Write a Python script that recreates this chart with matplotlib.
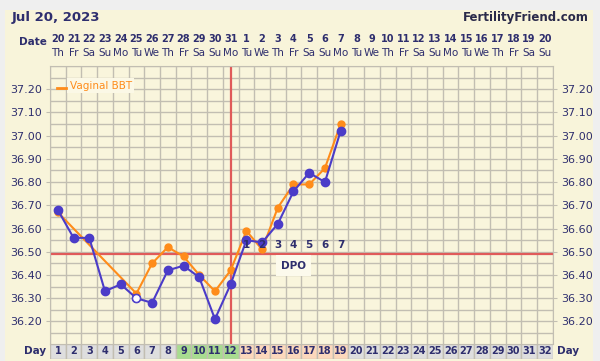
import matplotlib.pyplot as plt
import matplotlib.transforms as mtransforms
from matplotlib.patches import Rectangle

# chart data
days = list(range(1, 33))
dates = [20, 21, 22, 23, 24, 25, 26, 27, 28, 29, 30, 31,
         1, 2, 3, 4, 5, 6, 7, 8, 9, 10, 11, 12, 13, 14, 15, 16, 17, 18, 19, 20]
weekdays = ["Th", "Fr", "Sa", "Su", "Mo", "Tu", "We", "Th", "Fr", "Sa", "Su", "Mo",
            "Tu", "We", "Th", "Fr", "Sa", "Su", "Mo", "Tu", "We", "Th", "Fr", "Sa",
            "Su", "Mo", "Tu", "We", "Th", "Fr", "Sa", "Su"]

bbt_days = list(range(1, 20))
bbt_temps = [36.68, 36.56, 36.56, 36.33, 36.36, 36.30, 36.28, 36.42, 36.44, 36.39,
             36.21, 36.36, 36.55, 36.54, 36.62, 36.76, 36.84, 36.80, 37.02]
open_days = [6]

vag_days = [1, 6, 7, 8, 9, 10, 11, 12, 13, 14, 15, 16, 17, 18, 19]
vag_temps = [36.67, 36.32, 36.45, 36.52, 36.48, 36.40, 36.33, 36.42, 36.59, 36.51,
             36.69, 36.79, 36.79, 36.86, 37.05]

coverline = 36.49
ovulation_day = 12
dpo_days = [13, 14, 15, 16, 17, 18, 19]
yticks = [36.20, 36.30, 36.40, 36.50, 36.60, 36.70, 36.80, 36.90, 37.00, 37.10, 37.20]

green_days = [9, 10, 11, 12]
peach_days = [13, 14, 15, 16, 17, 18, 19]

navy = "#2e2e6e"
cream = "#f9f5dc"
gridc = "#c2beb2"
red = "#e05a5a"
blue = "#4b3cc8"
orange = "#ff8c1a"

fig = plt.figure(figsize=(6, 3.61), dpi=100, facecolor="#efefef")
fig.patches.append(Rectangle((5 / 600, 0), 588 / 600, 1 - 10 / 361,
                             transform=fig.transFigure, facecolor="#f8f4da",
                             edgecolor="none", zorder=-10))

ax = fig.add_axes([50 / 600, (361 - 343.5) / 361, 502.7 / 600, 277.5 / 361])
ax.set_facecolor(cream)
ax.set_xlim(0.5, 32.5)
ax.set_ylim(36.105, 37.30)

# grid
for i in range(33):
    ax.axvline(i + 0.5, color=gridc, lw=1.0, zorder=1)
t = 36.10
while t < 37.31:
    ax.axhline(t, color=gridc, lw=1.0, zorder=1)
    t += 0.05
for s in ax.spines.values():
    s.set_color(gridc)

ax.set_xticks([])
ax.set_yticks(yticks)
ax.set_yticklabels(["%.2f" % v for v in yticks])
ax.tick_params(axis="y", which="both", labelsize=8, labelcolor=navy, color=gridc,
               length=3, pad=3, left=True, right=True, labelleft=True, labelright=True)

# coverline and ovulation line
ax.axhline(coverline, color=red, lw=1.6, zorder=2)
ax.axvline(ovulation_day, color=red, lw=1.6, zorder=2)

# temperature lines
ax.plot(vag_days, vag_temps, color=orange, lw=1.5, marker="o", ms=5, zorder=3)
ax.plot(bbt_days, bbt_temps, color=blue, lw=1.5, marker="o", ms=6, zorder=4)
for d in open_days:
    ax.plot(d, bbt_temps[bbt_days.index(d)], marker="o", ms=5.5, color=blue,
            mfc="white", mew=0.8, zorder=5)

# DPO labels
for n, d in enumerate(dpo_days):
    ax.text(d, coverline + 0.04, str(n + 1), ha="center", va="center",
            fontsize=7.5, fontweight="bold", color=navy, zorder=6)
ax.text(16, coverline - 0.05, "DPO", ha="center", va="center", fontsize=7.5,
        fontweight="bold", color=navy, zorder=6,
        bbox=dict(boxstyle="square,pad=0.5", facecolor="#fcfaec", edgecolor="none"))

# legend
ax.text(1.75, 37.215, "Vaginal BBT", ha="left", va="center", fontsize=7.5,
        color=orange, zorder=7,
        bbox=dict(boxstyle="square,pad=0.25", facecolor="#fbf8e6", edgecolor="none"))
ax.plot([0.95, 1.55], [37.205, 37.205], color=orange, lw=2, zorder=8)

# header
tr = mtransforms.blended_transform_factory(ax.transData, fig.transFigure)
for d, dt, wd in zip(days, dates, weekdays):
    fig.text(d, 1 - 39 / 361, str(dt), transform=tr, ha="center", va="center",
             fontsize=7, fontweight="bold", color=navy)
    fig.text(d, 1 - 52.5 / 361, wd, transform=tr, ha="center", va="center",
             fontsize=7.5, color=navy)
fig.text(47 / 600, 1 - 42 / 361, "Date", ha="right", va="center", fontsize=7.5,
         fontweight="bold", color=navy)
fig.text(12 / 600, 1 - 18 / 361, "Jul 20, 2023", ha="left", va="center",
         fontsize=9.5, fontweight="bold", color=navy)
fig.text(589 / 600, 1 - 17 / 361, "FertilityFriend.com", ha="right", va="center",
         fontsize=8.5, fontweight="bold", color="#2a2a4a")

# day row
axd = fig.add_axes([50 / 600, (361 - 358.5) / 361, 502.7 / 600, 15 / 361])
axd.set_xlim(0.5, 32.5)
axd.set_ylim(0, 1)
axd.axis("off")
cols = []
for d in days:
    if d in green_days:
        cols.append("#a8dc90")
    elif d in peach_days:
        cols.append("#fcd8bc")
    else:
        cols.append("#dedede")
axd.bar(days, [1] * len(days), width=1, bottom=0, color=cols, edgecolor=gridc, lw=1.0)
for d in days:
    axd.text(d, 0.5, str(d), ha="center", va="center", fontsize=7,
             fontweight="bold", color=navy)
fig.text(46 / 600, 1 - 351 / 361, "Day", ha="right", va="center", fontsize=7.5,
         fontweight="bold", color=navy)
fig.text(557 / 600, 1 - 351 / 361, "Day", ha="left", va="center", fontsize=7.5,
         fontweight="bold", color=navy)

fig.savefig("out.png", dpi=100, facecolor=fig.get_facecolor())
